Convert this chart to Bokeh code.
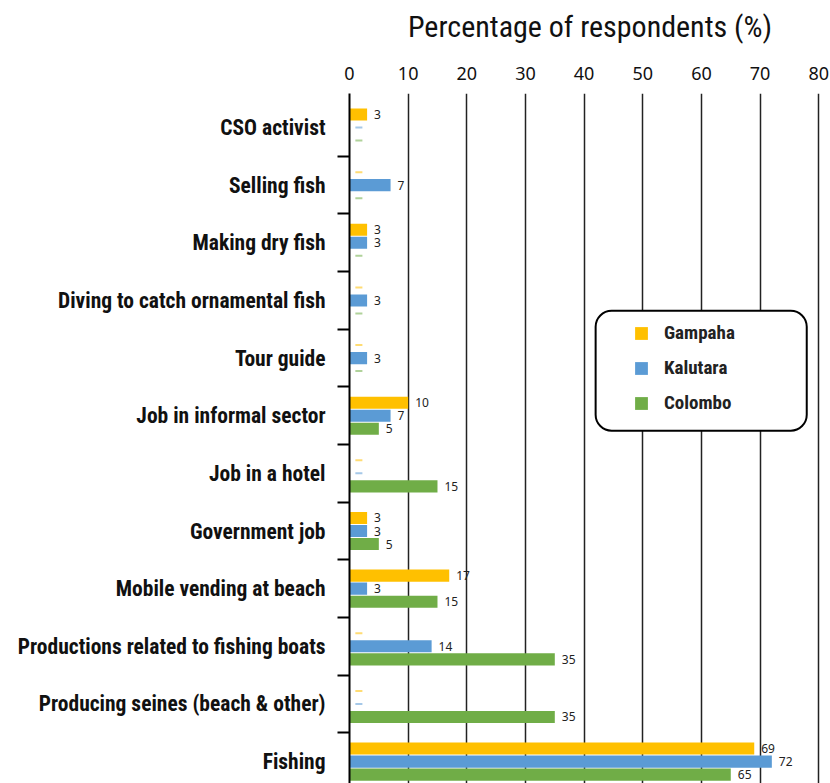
from bokeh.plotting import figure
from bokeh.models import (FixedTicker, Legend, LegendItem, BoxAnnotation,
                          ColumnDataSource, LabelSet)
from bokeh.core.properties import value
from bokeh.embed import file_html
from bokeh.resources import INLINE

# ---------------- data ----------------
categories = [
    "CSO activist",
    "Selling fish",
    "Making dry fish",
    "Diving to catch ornamental fish",
    "Tour guide",
    "Job in informal sector",
    "Job in a hotel",
    "Government job",
    "Mobile vending at beach",
    "Productions related to fishing boats",
    "Producing seines (beach & other)",
    "Fishing",
]
gampaha = [3, 0, 3, 0, 0, 10, 0, 3, 17, 0, 0, 69]
kalutara = [0, 7, 3, 3, 3, 7, 0, 3, 3, 14, 0, 72]
colombo = [0, 0, 0, 0, 0, 5, 15, 5, 15, 35, 35, 65]
series_names = ["Gampaha", "Kalutara", "Colombo"]
series_values = [gampaha, kalutara, colombo]
x_ticks = [0, 10, 20, 30, 40, 50, 60, 70, 80]
x_title = "Percentage of respondents (%)"

# ---------------- style ----------------
colors = ["#FFC000", "#5B9BD5", "#70AD47"]
offsets = [0.226, 0.0, -0.226]
bar_h = 0.21
cond_font = "Roboto Condensed"
num_font = "Noto Sans"

n = len(categories)
centers = [n - 1 - i for i in range(n)]  # first category at top

p = figure(width=830, height=783, x_range=(0, 82), y_range=(-0.38, n - 0.41),
           output_backend="svg", toolbar_location=None, x_axis_location="above",
           min_border_left=349, min_border_right=0, min_border_top=93,
           min_border_bottom=0)
p.outline_line_color = None
p.background_fill_color = "white"

renderers = []
for name, vals, col, off in zip(series_names, series_values, colors, offsets):
    ys = [c + off for c in centers]
    src = ColumnDataSource(dict(y=ys, v=vals))
    r = p.hbar(y="y", right="v", left=0, height=bar_h, source=src,
               fill_color=col, line_color=None)
    renderers.append(r)
    nz = [i for i, v in enumerate(vals) if v > 0]
    lsrc = ColumnDataSource(dict(y=[ys[i] for i in nz], v=[vals[i] for i in nz],
                                 lab=[str(vals[i]) for i in nz]))
    p.add_layout(LabelSet(x="v", y="y", text="lab", source=lsrc, x_offset=7,
                          text_baseline="middle", text_font_size=value("12px"),
                          text_font=value(num_font), text_color="#222222"))
    zi = [i for i, v in enumerate(vals) if v == 0]
    zsrc = ColumnDataSource(dict(y=[ys[i] for i in zi],
                                 v=[vals[i] for i in zi]))
    p.segment(x0=1.0, x1=2.2, y0="y", y1="y", source=zsrc,
              line_color=col, line_alpha=0.55, line_width=2)

# x axis (top)
xa = p.xaxis[0]
xa.ticker = FixedTicker(ticks=x_ticks)
xa.axis_line_color = None
xa.major_tick_line_color = None
xa.minor_tick_line_color = None
xa.major_label_text_font = num_font
xa.major_label_text_font_size = "18px"
xa.major_label_text_color = "#111111"
xa.major_label_standoff = 8
xa.axis_label = x_title
xa.axis_label_text_font = cond_font
xa.axis_label_text_font_size = "30px"
xa.axis_label_text_font_style = "normal"
xa.axis_label_standoff = 20
xa.axis_label_text_color = "#111111"

# y axis (left)
ya = p.yaxis[0]
ya.ticker = FixedTicker(ticks=centers, minor_ticks=[c + 0.5 for c in centers[1:]])
ya.major_label_overrides = {c: cat for c, cat in zip(centers, categories)}
ya.major_tick_line_color = None
ya.major_tick_out = 0
ya.major_tick_in = 0
ya.minor_tick_out = 12
ya.minor_tick_in = 0
ya.minor_tick_line_color = "black"
ya.minor_tick_line_width = 2
ya.axis_line_color = "black"
ya.axis_line_width = 2
ya.major_label_standoff = 12
ya.major_label_text_font = cond_font
ya.major_label_text_font_size = "21.5px"
ya.major_label_text_font_style = "bold"
ya.major_label_text_color = "#111111"

p.ygrid.grid_line_color = None
p.xgrid.grid_line_color = "#222222"
p.xgrid.grid_line_width = 1.5
p.xgrid.ticker = FixedTicker(ticks=x_ticks[1:])

# legend box
box = BoxAnnotation(left=41.96, right=77.95, bottom=5.74, top=7.82,
                    fill_color="white", fill_alpha=1.0, line_color="black",
                    line_alpha=1.0, line_width=2, border_radius=16)
p.add_layout(box)

legend = Legend(items=[LegendItem(label=nm, renderers=[r])
                       for nm, r in zip(series_names, renderers)],
                location=(284, 369), padding=0, margin=0, spacing=12,
                glyph_width=16, glyph_height=16, label_height=20,
                label_standoff=15, label_text_font=cond_font,
                label_text_font_size="19px", label_text_font_style="bold",
                label_text_color="#222222",
                border_line_color=None, background_fill_alpha=0)
p.add_layout(legend)

open("out.html", "w").write(file_html(p, INLINE))
